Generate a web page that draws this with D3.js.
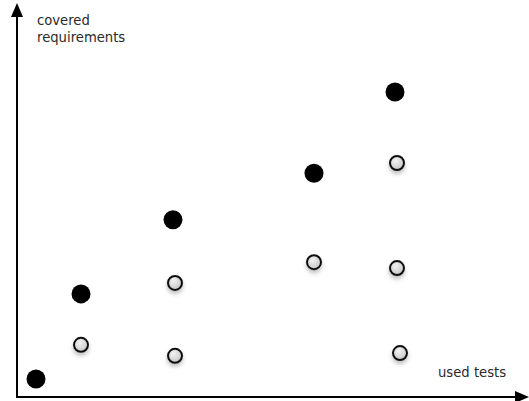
<!DOCTYPE html>
<html>
<head>
<meta charset="utf-8">
<script src="https://cdn.jsdelivr.net/npm/d3@7"></script>
<style>
  body { margin: 0; background: #fff; }
  .lbl { font-family: "DejaVu Sans", sans-serif; font-size: 13.2px; fill: #2a2a2a; }
</style>
</head>
<body>
<div id="chart"></div>
<script>
// data: used tests (x) vs covered requirements (y)
var filled_x = [0.38, 1.28, 3.12, 5.94, 7.56];
var filled_y = [0.46, 2.63, 4.52, 5.71, 7.78];
var open_x = [1.28, 3.16, 3.16, 5.94, 7.6, 7.6, 7.66];
var open_y = [1.33, 1.05, 2.91, 3.44, 3.29, 5.97, 1.12];
var x_label = "used tests";
var y_label = ["covered", "requirements"];

var width = 529, height = 401;
var origin = {x: 17, y: 397};

var svg = d3.select("#chart").append("svg")
    .attr("width", width)
    .attr("height", height);

// scales
var x = d3.scaleLinear().domain([0, 10]).range([origin.x, origin.x + 500]);
var y = d3.scaleLinear().domain([0, 10]).range([origin.y, origin.y - 392]);

var defs = svg.append("defs");

// grey fill for the open circles
var grad = defs.append("radialGradient")
    .attr("id", "greyfill")
    .attr("cx", "40%").attr("cy", "35%").attr("r", "70%");
grad.append("stop").attr("offset", "0%").attr("stop-color", "#f2f2f2");
grad.append("stop").attr("offset", "100%").attr("stop-color", "#c4c4c4");

// soft shadow under the circles
var shadow = defs.append("filter")
    .attr("id", "shadow")
    .attr("x", "-50%").attr("y", "-50%")
    .attr("width", "200%").attr("height", "220%");
shadow.append("feDropShadow")
    .attr("dx", 0).attr("dy", 3)
    .attr("stdDeviation", 2)
    .attr("flood-color", "#000")
    .attr("flood-opacity", 0.25);

// axes drawn as arrows
svg.append("line")
    .attr("x1", origin.x).attr("y1", origin.y)
    .attr("x2", origin.x).attr("y2", 14)
    .attr("stroke", "#000").attr("stroke-width", 2);
svg.append("path")
    .attr("d", "M" + origin.x + ",3 L" + (origin.x - 6) + ",17 L" + (origin.x + 6) + ",17 Z")
    .attr("fill", "#000");

svg.append("line")
    .attr("x1", origin.x - 1).attr("y1", origin.y)
    .attr("x2", 518).attr("y2", origin.y)
    .attr("stroke", "#000").attr("stroke-width", 2);
svg.append("path")
    .attr("d", "M529," + origin.y + " L515," + (origin.y - 6) + " L515," + (origin.y + 6) + " Z")
    .attr("fill", "#000");

// axis labels
svg.append("text")
    .attr("class", "lbl")
    .attr("x", 37).attr("y", 25)
    .text(y_label[0]);
svg.append("text")
    .attr("class", "lbl")
    .attr("x", 37).attr("y", 42)
    .text(y_label[1]);
svg.append("text")
    .attr("class", "lbl")
    .attr("x", 438).attr("y", 377)
    .text(x_label);

// open (grey) points
var open_pts = open_x.map(function(d, i) { return {x: d, y: open_y[i]}; });
svg.selectAll(".open").data(open_pts)
  .enter().append("circle")
    .attr("class", "open")
    .attr("cx", function(d) { return x(d.x); })
    .attr("cy", function(d) { return y(d.y); })
    .attr("r", 7)
    .attr("fill", "url(#greyfill)")
    .attr("stroke", "#111")
    .attr("stroke-width", 2)
    .attr("filter", "url(#shadow)");

// filled (black) points
var filled_pts = filled_x.map(function(d, i) { return {x: d, y: filled_y[i]}; });
svg.selectAll(".filled").data(filled_pts)
  .enter().append("circle")
    .attr("class", "filled")
    .attr("cx", function(d) { return x(d.x); })
    .attr("cy", function(d) { return y(d.y); })
    .attr("r", 9.5)
    .attr("fill", "#000");
</script>
</body>
</html>
